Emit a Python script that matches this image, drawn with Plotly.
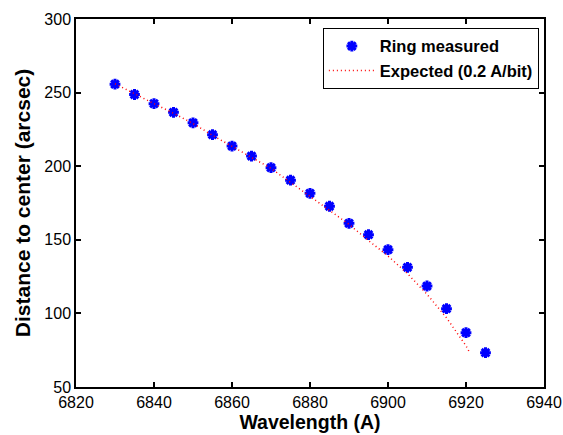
import plotly.graph_objects as go

wavelength = [6830, 6835, 6840, 6845, 6850, 6855, 6860, 6865, 6870, 6875,
              6880, 6885, 6890, 6895, 6900, 6905, 6910, 6915, 6920, 6925]
distance = [255.7, 248.7, 242.5, 236.6, 229.5, 221.4, 213.7, 206.9, 199.0, 190.5,
            181.6, 172.8, 161.2, 153.5, 143.3, 131.3, 118.6, 103.2, 86.9, 73.3]

exp_wavelength = [6830, 6835, 6840, 6845, 6850, 6855, 6860, 6865, 6870, 6875,
                  6880, 6885, 6890, 6895, 6900, 6905, 6910, 6915, 6920, 6921]
exp_distance = [256.0, 249.0, 242.5, 236.0, 229.0, 221.0, 213.5, 206.5, 198.5, 189.0,
                179.5, 170.0, 160.5, 149.5, 139.0, 127.0, 113.0, 97.0, 78.0, 73.0]

x_ticks = [6820, 6840, 6860, 6880, 6900, 6920, 6940]
y_ticks = [50, 100, 150, 200, 250, 300]

FONT = "Liberation Sans, Arial, sans-serif"

fig = go.Figure()
fig.add_trace(go.Scatter(
    x=wavelength, y=distance, mode="markers", name="Ring measured",
    marker=dict(symbol="asterisk-open", size=9, color="#0000ff",
                line=dict(color="#0000ff", width=3)),
))
fig.add_trace(go.Scatter(
    x=exp_wavelength, y=exp_distance, mode="lines", name="Expected (0.2 A/bit)",
    line=dict(color="#ff0000", width=1.5, dash="1px,3px"),
))

axis_common = dict(
    showline=True, linecolor="black", linewidth=1.5, mirror="ticks",
    ticks="inside", ticklen=5, tickwidth=1.5, tickcolor="black",
    showgrid=False, zeroline=False, automargin=False,
    tickfont=dict(family=FONT, size=16, color="black"),
)

fig.update_layout(
    width=563, height=435,
    margin=dict(l=76, r=19, t=19, b=48),
    paper_bgcolor="white", plot_bgcolor="white",
    showlegend=True,
    legend=dict(
        x=0.989, y=0.976, xanchor="right", yanchor="top",
        bgcolor="white", bordercolor="black", borderwidth=1,
        font=dict(family=FONT, size=16.5, color="black", weight="bold"),
        itemwidth=46,
    ),
    xaxis=dict(
        range=[6820, 6940], tickvals=x_ticks,
        title=dict(text="Wavelength (A)", standoff=2,
                   font=dict(family=FONT, size=19.5, color="black", weight="bold")),
        **axis_common,
    ),
    yaxis=dict(
        range=[50, 300], tickvals=y_ticks,
        title=dict(text="Distance to center (arcsec)", standoff=8,
                   font=dict(family=FONT, size=21, color="black", weight="bold")),
        **axis_common,
    ),
)

fig.write_html("out.html")
